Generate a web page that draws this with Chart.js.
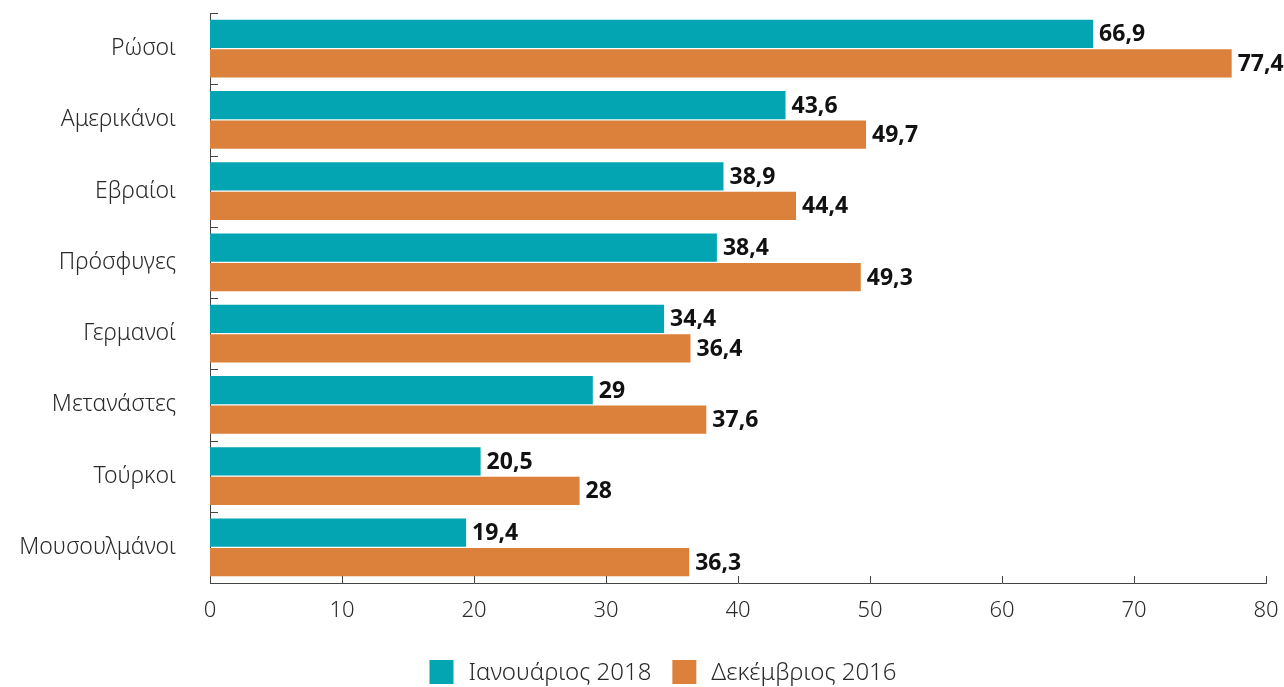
<!DOCTYPE html>
<html>
<head>
<meta charset="utf-8">
<script src="https://cdn.jsdelivr.net/npm/chart.js@4.4.1/dist/chart.umd.min.js"></script>
<style>
  html, body { margin: 0; padding: 0; background: #ffffff; }
  #wrap { width: 1284px; height: 687px; position: relative; }
</style>
</head>
<body>
<div id="wrap"><canvas id="c" width="1284" height="687"></canvas></div>
<script>
const categories = ['Ρώσοι', 'Αμερικάνοι', 'Εβραίοι', 'Πρόσφυγες', 'Γερμανοί', 'Μετανάστες', 'Τούρκοι', 'Μουσουλμάνοι'];
const seriesNames = ['Ιανουάριος 2018', 'Δεκέμβριος 2016'];
const jan2018 = [66.9, 43.6, 38.9, 38.4, 34.4, 29, 20.5, 19.4];
const dec2016 = [77.4, 49.7, 44.4, 49.3, 36.4, 37.6, 28, 36.3];
const xTicks = [0, 10, 20, 30, 40, 50, 60, 70, 80];

const TEAL = '#02A5B1';
const ORANGE = '#DC813B';
const FONT = "'Noto Sans', 'Open Sans', sans-serif";
const TEXT = '#2a2a2a';
const AXIS = '#444444';

const innerTicks = {
  id: 'innerTicks',
  afterDatasetsDraw(chart) {
    const ctx = chart.ctx;
    const x = chart.scales.x, y = chart.scales.y;
    ctx.save();
    ctx.strokeStyle = AXIS;
    ctx.lineWidth = 1;
    for (let i = 0; i < categories.length; i++) {
      const py = Math.round(y.getPixelForValue(i - 0.5)) + 0.5;
      ctx.beginPath();
      ctx.moveTo(x.left, py);
      ctx.lineTo(x.left + 8, py);
      ctx.stroke();
    }
    xTicks.forEach(v => {
      if (v === 0) return;
      const px = Math.round(x.getPixelForValue(v)) + 0.5;
      ctx.beginPath();
      ctx.moveTo(px, y.bottom);
      ctx.lineTo(px, y.bottom - 7);
      ctx.stroke();
    });
    ctx.restore();
  }
};

const valueLabels = {
  id: 'valueLabels',
  afterDatasetsDraw(chart) {
    const ctx = chart.ctx;
    ctx.save();
    ctx.font = "bold 23px " + FONT;
    ctx.fillStyle = '#111111';
    ctx.textAlign = 'left';
    ctx.textBaseline = 'middle';
    chart.data.datasets.forEach((ds, di) => {
      const meta = chart.getDatasetMeta(di);
      meta.data.forEach((bar, i) => {
        const txt = String(ds.data[i]).replace('.', ',');
        ctx.fillText(txt, bar.x + 6, bar.y + 1);
      });
    });
    ctx.restore();
  }
};

const customLegend = {
  id: 'customLegend',
  afterDraw(chart) {
    const ctx = chart.ctx;
    ctx.save();
    ctx.font = "300 24px " + FONT;
    const box = 24, gapText = 15, gapItem = 21;
    const items = chart.data.datasets.map(ds => ({ text: ds.label, color: ds.backgroundColor, w: ctx.measureText(ds.label).width }));
    let total = 0;
    items.forEach((it, i) => { total += box + gapText + it.w + (i < items.length - 1 ? gapItem : 0); });
    let xPos = chart.width / 2 + 21 - total / 2;
    const top = 660;
    items.forEach(it => {
      ctx.fillStyle = it.color;
      ctx.fillRect(xPos, top, box, box);
      ctx.fillStyle = TEXT;
      ctx.textAlign = 'left';
      ctx.textBaseline = 'middle';
      ctx.fillText(it.text, xPos + box + gapText, top + box / 2 + 1);
      xPos += box + gapText + it.w + gapItem;
    });
    ctx.restore();
  }
};

new Chart(document.getElementById('c'), {
  type: 'bar',
  data: {
    labels: categories,
    datasets: [
      { label: seriesNames[0], data: jan2018, backgroundColor: TEAL, borderWidth: 0 },
      { label: seriesNames[1], data: dec2016, backgroundColor: ORANGE, borderWidth: 0 }
    ]
  },
  options: {
    indexAxis: 'y',
    responsive: false,
    animation: false,
    devicePixelRatio: 1,
    barPercentage: 0.96,
    categoryPercentage: 0.83,
    layout: { padding: { top: 13, right: 18, left: 0, bottom: 54 } },
    scales: {
      x: {
        min: 0, max: 80,
        afterBuildTicks(scale) { scale.ticks = xTicks.map(v => ({ value: v })); },
        grid: { display: false, drawTicks: false },
        border: { display: true, color: AXIS, width: 1 },
        ticks: { color: TEXT, font: { family: FONT, size: 22, weight: 300 }, padding: 15 },
        afterFit(scale) { scale.height = 50; scale.paddingLeft = 0; scale.paddingRight = 0; }
      },
      y: {
        grid: { display: false, drawTicks: false },
        border: { display: true, color: AXIS, width: 1 },
        ticks: { color: TEXT, font: { family: FONT, size: 23, weight: 300 }, padding: 34, crossAlign: 'near' },
        afterFit(scale) { scale.width = 210; scale.paddingTop = 0; scale.paddingBottom = 0; }
      }
    },
    plugins: {
      legend: { display: false },
      tooltip: { enabled: false }
    }
  },
  plugins: [innerTicks, valueLabels, customLegend]
});
</script>
</body>
</html>
